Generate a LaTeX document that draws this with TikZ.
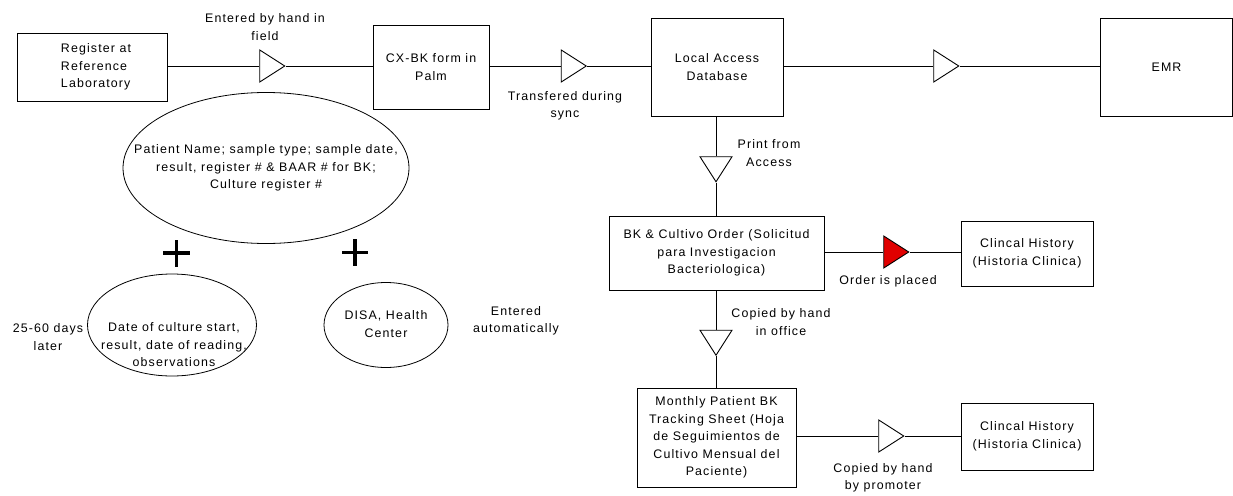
\documentclass[tikz,border=0pt]{standalone}
\usepackage{fontspec}
\setmainfont{Liberation Sans}[LetterSpace=9]
\usetikzlibrary{shapes.geometric}
\newcommand{\lbfont}{\fontsize{12.4}{17.5}\selectfont}
\begin{document}
\begin{tikzpicture}[x=1pt,y=-1pt,
  box/.style={draw, line width=0.9pt, inner sep=0, align=center, font=\lbfont},
  lbl/.style={inner sep=0, align=center, font=\lbfont},
  link/.style={line width=0.9pt},
  tri/.style={draw, fill=white, line width=0.9pt, isosceles triangle,
    isosceles triangle stretches, minimum width=32pt, minimum height=25pt, inner sep=0},
  redtri/.style={tri, fill=red!88!black},
  downtri/.style={tri, shape border rotate=270},
  oval/.style={draw, ellipse, line width=0.8pt, inner sep=0},
  plus/.style={line width=3.6pt}
]
\useasboundingbox (0,0) rectangle (1233,495);

% boxes
\node[box, minimum width=150pt, minimum height=68pt] (reg) at (92,67) {};
\node[lbl, align=left] (regt) at (96,67) {Register at\\Reference\\Laboratory};
\node[box, minimum width=116pt, minimum height=84pt] (cx) at (431,67) {CX-BK form in\\Palm};
\node[box, minimum width=132pt, minimum height=98pt] (la) at (717,67) {Local Access\\Database};
\node[box, minimum width=132pt, minimum height=98pt] (emr) at (1166.5,67) {EMR};
\node[box, minimum width=215pt, minimum height=74pt] (bk) at (716.5,253) {BK \& Cultivo Order (Solicitud\\para Investigacion\\Bacteriologica)};
\node[box, minimum width=132pt, minimum height=65pt] (ch1) at (1027,253.5) {Clincal History\\(Historia Clinica)};
\node[box, minimum width=159pt, minimum height=99pt] (mon) at (716.5,437.5) {Monthly Patient BK\\Tracking Sheet (Hoja\\de Seguimientos de\\Cultivo Mensual del\\Paciente)};
\node[box, minimum width=132pt, minimum height=67pt] (ch2) at (1027,436.5) {Clincal History\\(Historia Clinica)};

% triangles
\node[tri] (t1) at (268.5,66) {};
\node[tri] (t2) at (570,66) {};
\node[tri] (t3) at (942.5,66) {};
\node[downtri] (t4) at (716,165.5) {};
\node[redtri] (t5) at (892.5,252) {};
\node[downtri] (t6) at (716,339) {};
\node[tri] (t7) at (887.5,436) {};

% connectors
\draw[link] (reg.east |- t1) -- (t1) -- (t1 -| cx.west);
\draw[link] (cx.east |- t2) -- (t2) -- (t2 -| la.west);
\draw[link] (la.east |- t3) -- (t3) -- (t3 -| emr.west);
\draw[link] (la.south -| t4) -- (t4) -- (t4 |- bk.north);
\draw[link] (bk.east |- t5) -- (t5) -- (t5 -| ch1.west);
\draw[link] (bk.south -| t6) -- (t6) -- (t6 |- mon.north);
\draw[link] (mon.east |- t7) -- (t7) -- (t7 -| ch2.west);

% connector labels
\node[lbl] (l1) at (265,27) {Entered by hand in\\field};
\node[lbl] (l2) at (565,106) {Transfered during\\sync};
\node[lbl] (l3) at (769,153) {Print from\\Access};
\node[lbl] (l4) at (888,281) {Order is placed};
\node[lbl] (l5) at (781,322) {Copied by hand\\in office};
\node[lbl] (l6) at (883,478) {Copied by hand\\by promoter};

% ellipses
\node[oval, minimum width=286pt, minimum height=151pt] (e1) at (266,168) {};
\node[lbl] (e1t) at (266,168) {Patient Name; sample type; sample date,\\result, register \# \& BAAR \# for BK;\\Culture register \#};
\node[oval, minimum width=169pt, minimum height=102pt] (e2) at (172,325) {};
\node[lbl] (e2t) at (174,345) {Date of culture start,\\result, date of reading,\\observations};
\node[oval, minimum width=124pt, minimum height=85pt] (e3) at (386,325) {};
\node[lbl] (e3t) at (386,324) {DISA, Health\\Center};
\node[lbl] (d1) at (48,337) {25-60 days\\later};
\node[lbl] (d2) at (516,321) {Entered\\automatically};

% plus signs
\draw[plus] (163,253) -- (190,253) (176.5,240) -- (176.5,267);
\draw[plus] (342,252.5) -- (368,252.5) (355,239) -- (355,266);
\end{tikzpicture}
\end{document}
